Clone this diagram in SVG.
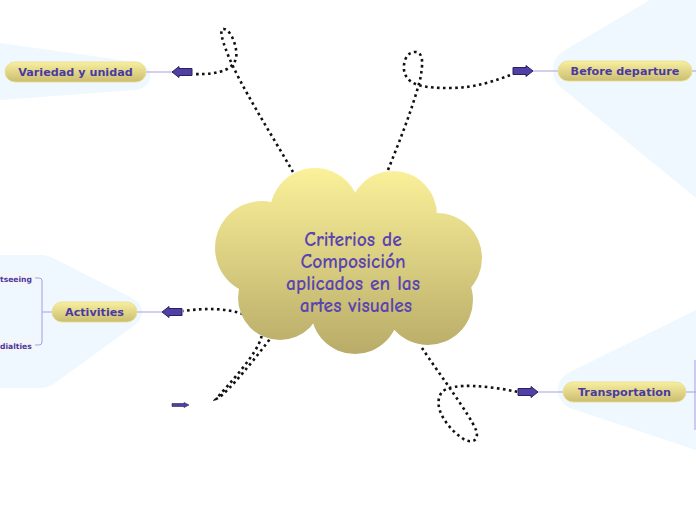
<svg xmlns="http://www.w3.org/2000/svg" width="696" height="520" viewBox="0 0 696 520">
<defs>
<linearGradient id="pill" x1="0" y1="0" x2="0" y2="1">
<stop offset="0" stop-color="#f8ef9f"/>
<stop offset="1" stop-color="#cbbd70"/>
</linearGradient>
<linearGradient id="cloudg" gradientUnits="userSpaceOnUse" x1="0" y1="168" x2="0" y2="355">
<stop offset="0" stop-color="#fbf19a"/>
<stop offset="1" stop-color="#b8ab68"/>
</linearGradient>
<path id="arr" d="M0,-3.5 H13 V-5.5 L20,0 L13,5.5 V3.5 H0 Z" fill="#5040a6" stroke="#2a2358" stroke-width="1"/>
<path id="arrs" d="M0,-1.5 H12 V-2.5 L17,0 L12,2.5 V1.5 H0 Z" fill="#5040a6" stroke="#2a2358" stroke-width="0.6"/>
</defs>
<style>
.region{fill:#eef8fe}
.pill{fill:url(#pill);stroke:#e9dd8a;stroke-width:0.8}
.lbl{font-family:"DejaVu Sans","Liberation Sans",sans-serif;font-weight:bold;font-size:11.2px;fill:#4a39a0;text-anchor:middle}
.sub{font-family:"DejaVu Sans","Liberation Sans",sans-serif;font-weight:bold;font-size:7.6px;fill:#4a39a0}
.link{stroke:#a99de0;stroke-width:1;fill:none}
.dot{stroke:#111;stroke-width:2.6;fill:none;stroke-dasharray:2.6 3.4}
.cloudtxt{font-family:"Comic Neue","DejaVu Sans",sans-serif;font-size:19.5px;fill:#5a44b0;text-anchor:middle;font-weight:bold}
</style>
<rect width="696" height="520" fill="#ffffff"/>

<g id="regions">
<path class="region" d="M0,43 L135,62 Q150,64 150,76 Q150,88 135,90 L0,100 Z"/>
<path class="region" d="M696,0 L650,0 L565,50 Q553,57 553,70 Q553,82 563,89 L696,198 Z"/>
<path class="region" d="M0,255 L40,255 Q48,255 55,259 L132,298 Q142,304 142,312 Q142,320 132,327 L55,383 Q48,388 40,388 L0,388 Z"/>
<path class="region" d="M696,310 L570,372 Q558,378 558,390 Q558,402 570,408 L696,450 Z"/>
</g>

<g id="connectors">
<path class="dot" d="M293,172 C270,132 240,85 228,55 C220,35 220,28 224,29 C232,30 238,50 236,58 C234,68 222,75 193,74"/>
<path class="dot" d="M388,170 C400,140 412,110 420,80 C423,65 424,52 415,52 C405,52 402,66 405,74 C410,86 425,88 450,88 C475,88 495,81 513,74"/>
<path class="dot" d="M243,314 C225,308 205,308 183,311"/>
<path class="dot" d="M262,330 C264,345 240,372 216,399 C222,398 245,372 273,335"/>
<path class="dot" d="M422,348 C440,375 470,415 476,430 C480,442 470,444 462,438 C445,426 432,405 442,392 C452,382 490,386 518,392"/>
<line class="link" x1="146" y1="72" x2="172" y2="72"/>
<line class="link" x1="533" y1="71" x2="558" y2="71"/>
<line class="link" x1="692" y1="71" x2="696" y2="71"/>
<line class="link" x1="137" y1="312" x2="162" y2="312"/>
<line class="link" x1="538" y1="392" x2="563" y2="392"/>
<path class="link" d="M686,392 H696 M695,360 V430"/>
<path class="link" d="M35,278 H39 Q42,278 42,281 V342 Q42,345 39,345 H35 M42,312 H52"/>
<use href="#arr" transform="translate(192,72) scale(-1,1)"/>
<use href="#arr" transform="translate(513,71)"/>
<use href="#arr" transform="translate(182,312) scale(-1,1)"/>
<use href="#arr" transform="translate(518,392)"/>
<use href="#arrs" transform="translate(172,405)"/>
</g>

<g id="center">
<g fill="url(#cloudg)">
<circle cx="315" cy="213" r="45"/>
<circle cx="393" cy="215" r="44"/>
<circle cx="262" cy="248" r="47"/>
<circle cx="437" cy="258" r="45"/>
<circle cx="280" cy="298" r="42"/>
<circle cx="355" cy="310" r="44"/>
<circle cx="428" cy="300" r="45"/>
<ellipse cx="350" cy="262" rx="100" ry="62"/>
</g>
<text class="cloudtxt" x="353" y="246">Criterios de</text>
<text class="cloudtxt" x="353" y="268">Composición</text>
<text class="cloudtxt" x="353" y="290">aplicados en las</text>
<text class="cloudtxt" x="356" y="312">artes visuales</text>
</g>

<g id="variedad">
<rect class="pill" x="5" y="62" width="141" height="20" rx="10"/>
<text class="lbl" x="75.5" y="76">Variedad y unidad</text>
</g>
<g id="before">
<rect class="pill" x="558" y="61" width="134" height="20" rx="10"/>
<text class="lbl" x="625" y="75">Before departure</text>
</g>
<g id="activities">
<rect class="pill" x="52" y="302" width="85" height="20" rx="10"/>
<text class="lbl" x="94.5" y="316">Activities</text>
</g>
<g id="transportation">
<rect class="pill" x="563" y="382" width="123" height="20" rx="10"/>
<text class="lbl" x="624.5" y="396">Transportation</text>
</g>
<g id="sightseeing">
<rect x="-6" y="272" width="41" height="13" rx="2" fill="#f4f5f8"/>
<text class="sub" x="0" y="281.5">tseeing</text>
</g>
<g id="specialties">
<rect x="-6" y="339" width="41" height="13" rx="2" fill="#f4f5f8"/>
<text class="sub" x="0" y="348.5">dialties</text>
</g>
</svg>
